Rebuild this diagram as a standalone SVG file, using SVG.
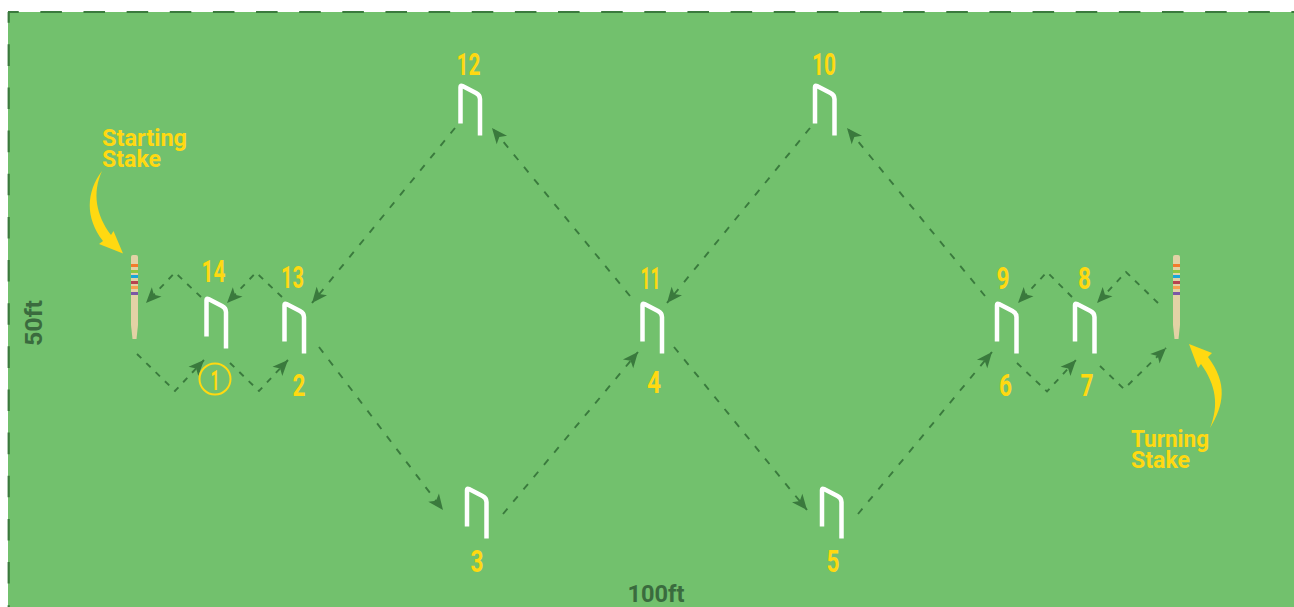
<svg xmlns="http://www.w3.org/2000/svg" width="1294" height="607" viewBox="0 0 1294 607">
<style>
.num{font-family:"Roboto","Liberation Sans",sans-serif;font-weight:700;font-size:32px;fill:#FFD911}
.lab{font-family:"Roboto","Liberation Sans",sans-serif;font-weight:700;font-size:24px;fill:#FFD911}
.dim{font-family:"Roboto","Liberation Sans",sans-serif;font-weight:700;font-size:24px;fill:#3A6B3E}
.hoop{fill:none;stroke:#fff;stroke-width:4.5;stroke-linejoin:round}
.c{fill:none;stroke:#3A7A3D;stroke-width:1.9;stroke-dasharray:7 9;marker-end:url(#ah)}
.z{fill:none;stroke:#3A7A3D;stroke-width:1.9;stroke-dasharray:6 7;marker-end:url(#ah)}
.b{fill:none;stroke:#3A7A3D;stroke-width:2.2;stroke-dasharray:21.57;stroke-dashoffset:10.8}
</style>
<defs>
<marker id="ah" markerUnits="userSpaceOnUse" markerWidth="17" markerHeight="15" refX="16" refY="7.500" orient="auto"><path d="M16 7.500L0.500 0.800L4.500 7.500L0.500 14.200Z" fill="#3A7A3D"/></marker>
<path id="hp" class="hoop" d="M0 38.500V2Q0 0 2 1L15.500 8Q19.500 10 19.500 14V50.500"/>
<g id="st">
<path d="M0 2Q0 0 2 0H5Q7 0 7 2V70L5.500 84H1.500L0 70Z" fill="#E2D2A5"/>
<rect y="9" width="7" height="3" fill="#F47B2C"/><rect y="15" width="7" height="3" fill="#8CC63F"/><rect y="20" width="7" height="3" fill="#1BA6D6"/><rect y="26" width="7" height="3" fill="#B8434F"/><rect y="31" width="7" height="3" fill="#F7A24E"/><rect y="37" width="7" height="3" fill="#7B57A6"/>
</g>
</defs>
<rect x="8" y="12" width="1286" height="595" fill="#72C16D"/>
<g id="border"><path class="b" d="M8 12H1294"/><path class="b" d="M8.700 12V607"/></g>
<g id="connectors">
<path class="z" d="M137 354L175 391L204 360"/>
<path class="z" d="M230 363L259 391L288 360"/>
<path class="z" d="M201 297L175 272.500L146 303"/>
<path class="z" d="M282 297L256 272.500L227 303"/>
<path class="c" d="M455 128L312 303"/>
<path class="c" d="M319 347L443 510"/>
<path class="c" d="M503 514L638 352"/>
<path class="c" d="M674 347L807 510"/>
<path class="c" d="M858 514L992 352"/>
<path class="z" d="M1017 363L1047 391.500L1076 360"/>
<path class="z" d="M1100 366L1124 389L1166 348"/>
<path class="z" d="M1158 303L1126 272L1097 303"/>
<path class="z" d="M1072 297L1047 272L1018 303"/>
<path class="c" d="M985 296L847 128"/>
<path class="c" d="M810 128L667 303"/>
<path class="c" d="M630 296L492 128"/>
</g>
<g id="hoop-14"><use href="#hp" x="206.500" y="298"/><text class="num" x="213.500" y="282" text-anchor="middle" textLength="24" lengthAdjust="spacingAndGlyphs">14</text></g>
<g id="hoop-13"><use href="#hp" x="284.500" y="303"/><text class="num" x="292.500" y="287.500" text-anchor="middle" textLength="23" lengthAdjust="spacingAndGlyphs">13</text></g>
<g id="hoop-12"><use href="#hp" x="460.500" y="85"/><text class="num" x="468.500" y="75" text-anchor="middle" textLength="24" lengthAdjust="spacingAndGlyphs">12</text></g>
<g id="hoop-10"><use href="#hp" x="815" y="85"/><text class="num" x="824" y="75" text-anchor="middle" textLength="24" lengthAdjust="spacingAndGlyphs">10</text></g>
<g id="hoop-11"><use href="#hp" x="642.500" y="303"/><text class="num" x="650.500" y="289" text-anchor="middle" textLength="20" lengthAdjust="spacingAndGlyphs">11</text></g>
<g id="hoop-9"><use href="#hp" x="997" y="303"/><text class="num" x="1003" y="289" text-anchor="middle" textLength="13" lengthAdjust="spacingAndGlyphs">9</text></g>
<g id="hoop-8"><use href="#hp" x="1075" y="303"/><text class="num" x="1084.500" y="289" text-anchor="middle" textLength="13" lengthAdjust="spacingAndGlyphs">8</text></g>
<g id="hoop-3"><use href="#hp" x="467" y="488"/><text class="num" x="477" y="572" text-anchor="middle" textLength="13" lengthAdjust="spacingAndGlyphs">3</text></g>
<g id="hoop-5"><use href="#hp" x="822" y="488"/><text class="num" x="833" y="572" text-anchor="middle" textLength="13" lengthAdjust="spacingAndGlyphs">5</text></g>
<g id="label-1"><circle cx="215" cy="379" r="15.500" fill="none" stroke="#FFD911" stroke-width="2"/><text class="num" x="215" y="390" text-anchor="middle" style="font-size:28px" textLength="9" lengthAdjust="spacingAndGlyphs">1</text></g>
<g id="label-2"><text class="num" x="299" y="396" text-anchor="middle" textLength="13" lengthAdjust="spacingAndGlyphs">2</text></g>
<g id="label-4"><text class="num" x="654" y="393" text-anchor="middle" textLength="14" lengthAdjust="spacingAndGlyphs">4</text></g>
<g id="label-6"><text class="num" x="1005.500" y="396" text-anchor="middle" textLength="13" lengthAdjust="spacingAndGlyphs">6</text></g>
<g id="label-7"><text class="num" x="1087" y="396" text-anchor="middle" textLength="13" lengthAdjust="spacingAndGlyphs">7</text></g>
<g id="starting-stake"><use href="#st" x="131" y="255"/>
<path d="M102 171C86 192 85 218 103 241L99 244L123 253.500L113.500 231L111 235C96 215 92 193 102 171Z" fill="#FFD911"/>
<text class="lab"><tspan x="102" y="146" textLength="85" lengthAdjust="spacingAndGlyphs">Starting</tspan><tspan x="102" y="167" textLength="59" lengthAdjust="spacingAndGlyphs">Stake</tspan></text></g>
<g id="turning-stake"><use href="#st" x="1173" y="255"/>
<path d="M1210 428C1224 405 1228 384 1208 357L1212 353L1189 344L1198 368L1201 364C1216 385 1219 405 1210 428Z" fill="#FFD911"/>
<text class="lab"><tspan x="1131" y="447" textLength="78" lengthAdjust="spacingAndGlyphs">Turning</tspan><tspan x="1131" y="468" textLength="59" lengthAdjust="spacingAndGlyphs">Stake</tspan></text></g>
<text class="dim" x="656" y="602" text-anchor="middle" textLength="57" lengthAdjust="spacingAndGlyphs">100ft</text>
<text class="dim" transform="translate(42 323) rotate(-90)" text-anchor="middle" textLength="46" lengthAdjust="spacingAndGlyphs">50ft</text>
</svg>
